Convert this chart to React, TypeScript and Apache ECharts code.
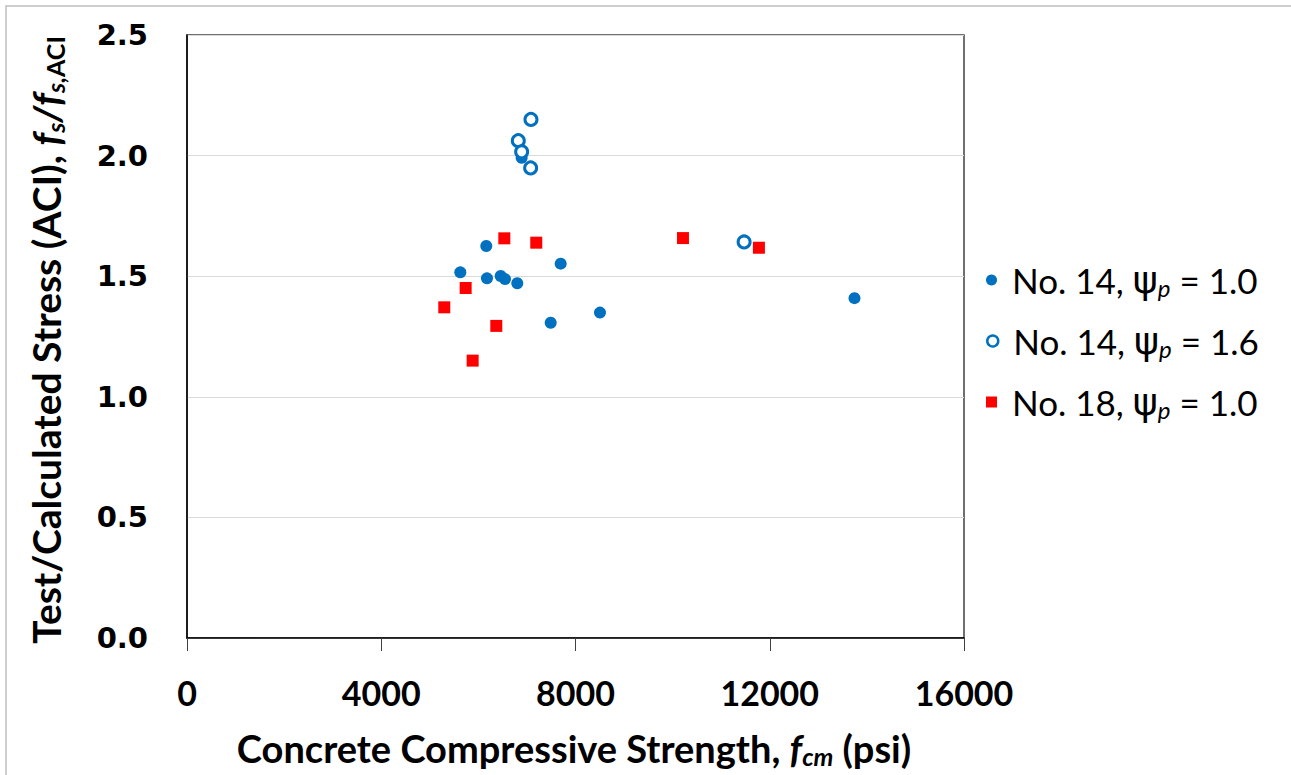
import React, { useEffect, useRef } from "react";
import * as echarts from "echarts";

const xTicks = [0, 4000, 8000, 12000, 16000];
const yTicks = [0, 0.5, 1.0, 1.5, 2.0, 2.5];

const seriesNames = ["No. 14, psi_p = 1.0", "No. 14, psi_p = 1.6", "No. 18, psi_p = 1.0"];

// No. 14, psi_p = 1.0 (filled circles)
const no14Psi10X = [6163, 5628, 6177, 6459, 6548, 6801, 7695, 7489, 8504, 13745, 6891];
const no14Psi10Y = [1.625, 1.516, 1.491, 1.501, 1.488, 1.471, 1.552, 1.307, 1.349, 1.409, 1.991];

// No. 14, psi_p = 1.6 (open circles)
const no14Psi16X = [7083, 6822, 6891, 7076, 11472];
const no14Psi16Y = [2.15, 2.062, 2.016, 1.949, 1.642];

// No. 18, psi_p = 1.0 (squares)
const no18Psi10X = [6534, 7192, 5738, 5298, 6369, 5882, 10213, 11777];
const no18Psi10Y = [1.657, 1.639, 1.451, 1.371, 1.294, 1.15, 1.658, 1.618];

const legendLabels: Record<string, string> = {
  [seriesNames[0]]: "{t|No. 14, }{g|ψ}{s|p}{t| = 1.0}",
  [seriesNames[1]]: "{t|No. 14, }{g|ψ}{s|p}{t| = 1.6}",
  [seriesNames[2]]: "{t|No. 18, }{g|ψ}{s|p}{t| = 1.0}",
};

const pairs = (xs: number[], ys: number[]) => xs.map((x, i) => [x, ys[i]]);

const BLUE = "#0070C0";
const RED = "#FF0000";
const FONT = "Lato, 'Open Sans', sans-serif";

export default function App() {
  const ref = useRef<HTMLDivElement>(null);
  useEffect(() => {
    if (!ref.current) return;
    const chart = echarts.init(ref.current, null, { renderer: "svg" });
    const legendRich = {
      t: { fontFamily: FONT, fontSize: 35, color: "#000" },
      g: { fontFamily: "'DejaVu Sans', sans-serif", fontSize: 38, color: "#000" },
      s: { fontFamily: FONT, fontSize: 24, fontStyle: "italic", color: "#000", verticalAlign: "bottom", padding: [14, 0, 0, 0] },
    };
    const makeLegend = (i: number, top: number, icon: string, itemStyle?: object) => ({
      data: [{ name: seriesNames[i], icon, itemStyle }],
      left: 986,
      top,
      orient: "vertical",
      itemWidth: 11,
      itemHeight: 11,
      itemGap: 0,
      padding: 0,
      formatter: (n: string) => legendLabels[n],
      textStyle: { rich: legendRich, padding: [0, 0, 0, 10] },
    });
    chart.setOption({
      animation: false,
      backgroundColor: "#fff",
      grid: {
        left: 187,
        right: 327,
        top: 35,
        bottom: 137,
        show: true,
        borderColor: "#404040",
        borderWidth: 1.5,
      },
      legend: [
        makeLegend(0, 261, "circle"),
        makeLegend(1, 322, "circle", { color: "#fff", borderColor: BLUE, borderWidth: 2.5 }),
        makeLegend(2, 383, "rect"),
      ],
      xAxis: {
        type: "value",
        min: xTicks[0],
        max: xTicks[xTicks.length - 1],
        interval: 4000,
        axisLine: { show: true, lineStyle: { color: "#000", width: 1.5 } },
        axisTick: { show: true, inside: false, length: 13, lineStyle: { color: "#404040", width: 1 } },
        splitLine: { show: false },
        axisLabel: {
          margin: 37,
          fontFamily: FONT,
          fontWeight: "bold",
          fontSize: 34,
          color: "#000",
          formatter: (v: number) => String(v),
        },
      },
      yAxis: {
        type: "value",
        min: yTicks[0],
        max: yTicks[yTicks.length - 1],
        interval: 0.5,
        axisLine: { show: true, lineStyle: { color: "#000", width: 1.5 } },
        axisTick: { show: false },
        splitLine: { show: true, lineStyle: { color: "#D9D9D9", width: 1 } },
        axisLabel: {
          margin: 39,
          fontFamily: "'DejaVu Sans', sans-serif",
          fontWeight: "bold",
          fontSize: 29,
          color: "#000",
          formatter: (v: number) => v.toFixed(1),
        },
      },
      series: [
        {
          name: seriesNames[0],
          type: "scatter",
          symbol: "circle",
          symbolSize: 12,
          itemStyle: { color: BLUE, opacity: 1 },
          data: pairs(no14Psi10X, no14Psi10Y),
          z: 3,
        },
        {
          name: seriesNames[1],
          type: "scatter",
          symbol: "circle",
          symbolSize: 12,
          itemStyle: { color: "#fff", borderColor: BLUE, borderWidth: 3, opacity: 1 },
          data: pairs(no14Psi16X, no14Psi16Y),
          z: 4,
        },
        {
          name: seriesNames[2],
          type: "scatter",
          symbol: "rect",
          symbolSize: 12,
          itemStyle: { color: RED, opacity: 1 },
          data: pairs(no18Psi10X, no18Psi10Y),
          z: 5,
        },
      ],
      graphic: [
        {
          type: "rect",
          shape: { x: 6, y: 6, width: 1300, height: 800 },
          style: { fill: "none", stroke: "#BFBFBF", lineWidth: 1.5 },
          silent: true,
          z: -1,
        },
        {
          type: "text",
          x: 574,
          y: 748,
          style: {
            text: "{b|Concrete Compressive Strength, }{i|f}{si|cm}{b| (psi)}",
            align: "center",
            verticalAlign: "middle",
            rich: {
              b: { fontFamily: FONT, fontWeight: "bold", fontSize: 38, fill: "#000" },
              i: { fontFamily: FONT, fontWeight: "bold", fontStyle: "italic", fontSize: 38, fill: "#000" },
              si: { fontFamily: FONT, fontWeight: "bold", fontStyle: "italic", fontSize: 25, fill: "#000", padding: [16, 0, 0, 0] },
            },
          },
        },
        {
          type: "text",
          x: 46,
          y: 340,
          rotation: Math.PI / 2,
          style: {
            text: "{b|Test/Calculated Stress (ACI), }{i|f}{si|s}{i|/f}{si|s,}{su|ACI}",
            align: "center",
            verticalAlign: "middle",
            rich: {
              b: { fontFamily: FONT, fontWeight: "bold", fontSize: 39, fill: "#000" },
              i: { fontFamily: FONT, fontWeight: "bold", fontStyle: "italic", fontSize: 39, fill: "#000" },
              si: { fontFamily: FONT, fontWeight: "bold", fontStyle: "italic", fontSize: 25, fill: "#000", padding: [17, 0, 0, 0] },
              su: { fontFamily: FONT, fontWeight: "bold", fontSize: 25, fill: "#000", padding: [17, 0, 0, 0] },
            },
          },
        },
      ],
    });
    return () => chart.dispose();
  }, []);
  return (
    <div
      ref={ref}
      style={{ position: "fixed", left: 0, top: 0, width: 1291, height: 775 }}
    />
  );
}
